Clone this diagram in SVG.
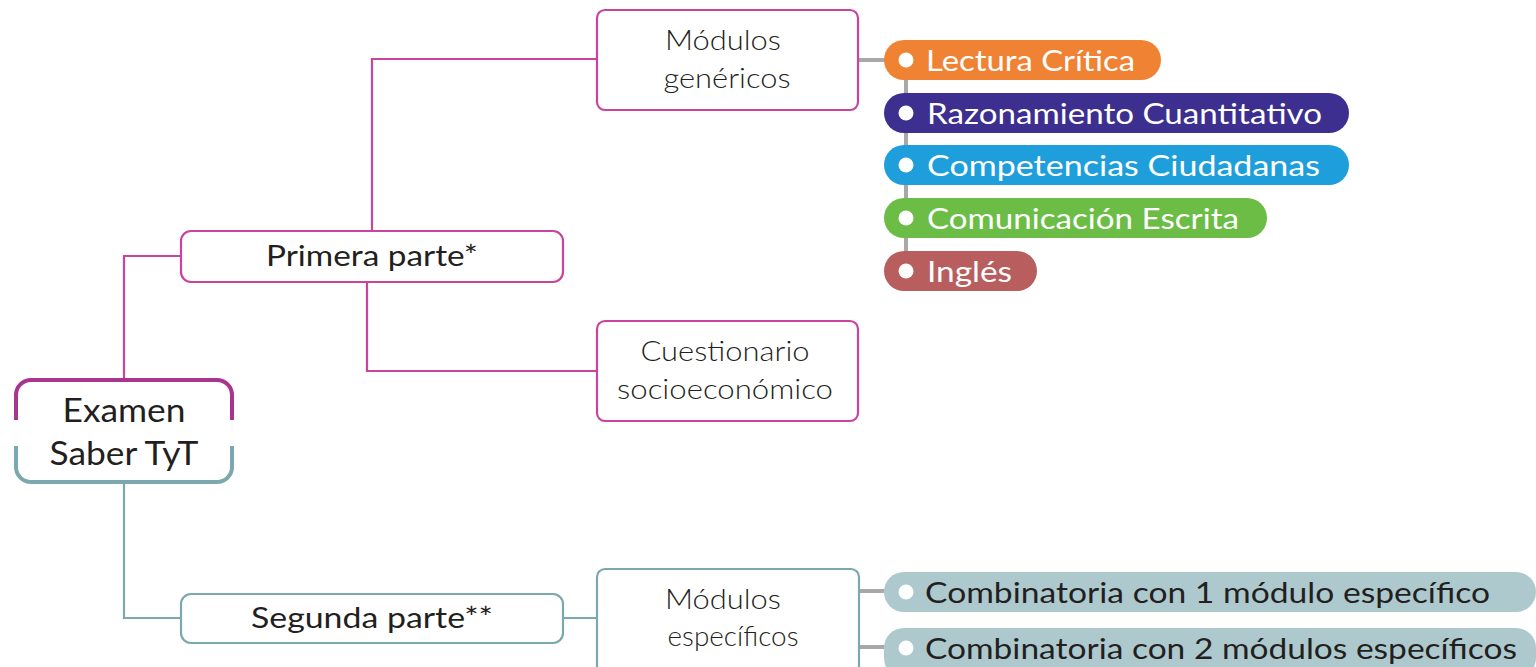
<svg xmlns="http://www.w3.org/2000/svg" width="1536" height="667" viewBox="0 0 1536 667">
<style>
.bg{fill:#ffffff}
.mag{fill:none;stroke:#c8449d;stroke-width:2.2}
.teal{fill:none;stroke:#7ba8ae;stroke-width:2.2}
.gray{fill:none;stroke:#a8a8a8;stroke-width:4}
.box-m{fill:#ffffff;stroke:#c8449d;stroke-width:2.2}
.box-t{fill:#ffffff;stroke:#7ba8ae;stroke-width:2.2}
.t-bold{font-family:"Lato","Noto Sans","Liberation Sans",sans-serif;font-weight:400;fill:#231f20}
.t-light{font-family:"Lato","Noto Sans","Liberation Sans",sans-serif;font-weight:300;fill:#231f20}
.pill-t{font-family:"Lato","Noto Sans","Liberation Sans",sans-serif;font-weight:400;font-size:29px;fill:#ffffff}
.pill-d{font-family:"Lato","Noto Sans","Liberation Sans",sans-serif;font-weight:400;font-size:29px;fill:#231f20}
.dot{fill:#ffffff}
</style>
<rect class="bg" x="0" y="0" width="1536" height="667"/>

<g id="connectors">
  <polyline class="mag" points="124,380 124,256 181,256"/>
  <polyline class="mag" points="372,231 372,59 597,59"/>
  <polyline class="mag" points="367,282 367,371 597,371"/>
  <polyline class="teal" points="124,482 124,618 181,618"/>
  <line class="teal" x1="563" y1="618" x2="597" y2="618"/>
  <line class="gray" x1="858" y1="60" x2="886" y2="60"/>
  <line class="gray" x1="906" y1="60" x2="906" y2="271"/>
  <line class="gray" x1="859" y1="591" x2="886" y2="591"/>
  <line class="gray" x1="859" y1="647" x2="886" y2="647"/>
</g>

<g id="examen">
  <rect x="16" y="380" width="216" height="102" rx="15" fill="#ffffff"/>
  <path d="M16,420 V395 A15,15 0 0 1 31,380 H217 A15,15 0 0 1 232,395 V420" fill="none" stroke="#a8358f" stroke-width="4"/>
  <path d="M16,446 V467 A15,15 0 0 0 31,482 H217 A15,15 0 0 0 232,467 V446" fill="none" stroke="#7ba8ae" stroke-width="4"/>
  <text class="t-bold" x="124" y="422" font-size="32" text-anchor="middle" textLength="123" lengthAdjust="spacingAndGlyphs">Examen</text>
  <text class="t-bold" x="124" y="465" font-size="32" text-anchor="middle" textLength="149" lengthAdjust="spacingAndGlyphs">Saber TyT</text>
</g>

<g id="primera">
  <rect class="box-m" x="181" y="231" width="382" height="51" rx="10"/>
  <text class="t-bold" x="372" y="266" font-size="28" text-anchor="middle" textLength="212" lengthAdjust="spacingAndGlyphs">Primera parte*</text>
</g>

<g id="modulos-genericos">
  <rect class="box-m" x="597" y="10" width="261" height="100" rx="8"/>
  <text class="t-light" x="723" y="50" font-size="28" text-anchor="middle" textLength="116" lengthAdjust="spacingAndGlyphs">Módulos</text>
  <text class="t-light" x="727" y="88" font-size="28" text-anchor="middle" textLength="127" lengthAdjust="spacingAndGlyphs">genéricos</text>
</g>

<g id="cuestionario">
  <rect class="box-m" x="597" y="321" width="261" height="100" rx="8"/>
  <text class="t-light" x="725" y="361" font-size="28" text-anchor="middle" textLength="169" lengthAdjust="spacingAndGlyphs">Cuestionario</text>
  <text class="t-light" x="725" y="399" font-size="28" text-anchor="middle" textLength="216" lengthAdjust="spacingAndGlyphs">socioeconómico</text>
</g>

<g id="segunda">
  <rect class="box-t" x="181" y="594" width="382" height="49" rx="10"/>
  <text class="t-bold" x="372" y="628" font-size="28" text-anchor="middle" textLength="242" lengthAdjust="spacingAndGlyphs">Segunda parte**</text>
</g>

<g id="modulos-especificos">
  <rect class="box-t" x="597" y="569" width="262" height="110" rx="8"/>
  <text class="t-light" x="723" y="609" font-size="28" text-anchor="middle" textLength="116" lengthAdjust="spacingAndGlyphs">Módulos</text>
  <text class="t-light" x="733" y="646" font-size="28" text-anchor="middle" textLength="131" lengthAdjust="spacingAndGlyphs">específicos</text>
</g>

<g id="lectura">
  <rect x="884" y="40" width="277" height="40" rx="20" fill="#f08233"/>
  <circle class="dot" cx="906" cy="60" r="7.5"/>
  <text class="pill-t" x="926" y="71" textLength="209" lengthAdjust="spacingAndGlyphs">Lectura Crítica</text>
</g>
<g id="razonamiento">
  <rect x="884" y="93" width="465" height="40" rx="20" fill="#3c2f8f"/>
  <circle class="dot" cx="906" cy="113" r="7.5"/>
  <text class="pill-t" x="927" y="124" textLength="395" lengthAdjust="spacingAndGlyphs">Razonamiento Cuantitativo</text>
</g>
<g id="competencias">
  <rect x="884" y="145" width="465" height="40" rx="20" fill="#1e9fdb"/>
  <circle class="dot" cx="906" cy="165" r="7.5"/>
  <text class="pill-t" x="927" y="176" textLength="393" lengthAdjust="spacingAndGlyphs">Competencias Ciudadanas</text>
</g>
<g id="comunicacion">
  <rect x="884" y="198" width="383" height="40" rx="20" fill="#6bbd45"/>
  <circle class="dot" cx="906" cy="218" r="7.5"/>
  <text class="pill-t" x="927" y="229" textLength="312" lengthAdjust="spacingAndGlyphs">Comunicación Escrita</text>
</g>
<g id="ingles">
  <rect x="884" y="251" width="153" height="40" rx="20" fill="#b85e5e"/>
  <circle class="dot" cx="906" cy="271" r="7.5"/>
  <text class="pill-t" x="927" y="282" textLength="85" lengthAdjust="spacingAndGlyphs">Inglés</text>
</g>

<g id="combinatoria-1">
  <rect x="884" y="572" width="652" height="40" rx="20" fill="#adc9ce"/>
  <circle class="dot" cx="906" cy="592" r="7.5"/>
  <text class="pill-d" x="925" y="603" textLength="565" lengthAdjust="spacingAndGlyphs">Combinatoria con 1 módulo específico</text>
</g>
<g id="combinatoria-2">
  <rect x="884" y="628" width="652" height="50" rx="20" fill="#adc9ce"/>
  <circle class="dot" cx="906" cy="648" r="7.5"/>
  <text class="pill-d" x="925" y="659" textLength="592" lengthAdjust="spacingAndGlyphs">Combinatoria con 2 módulos específicos</text>
</g>
</svg>
